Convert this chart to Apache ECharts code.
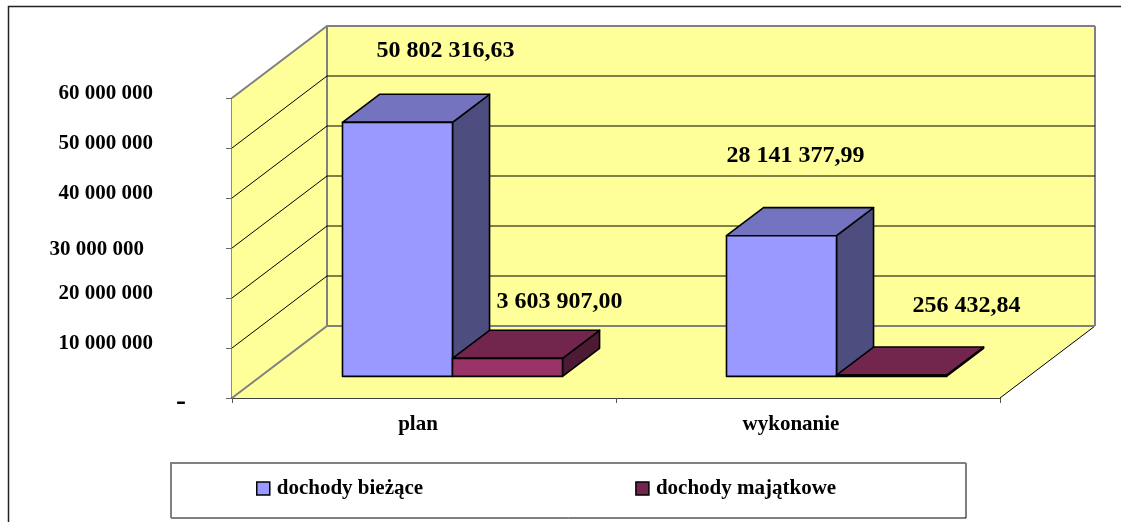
<!DOCTYPE html>
<html><head><meta charset="utf-8">
<script src="https://cdn.jsdelivr.net/npm/echarts@6/dist/echarts.min.js"></script>
<style>html,body{margin:0;padding:0;background:#fff}#c{width:1121px;height:522px}</style>
</head><body><div id="c"></div>
<script>
const categories = ['plan', 'wykonanie'];
const seriesNames = ['dochody bieżące', 'dochody majątkowe'];
const biezace = [50802316.63, 28141377.99];
const majatkowe = [3603907.00, 256432.84];
const yTicks = [0, 10000000, 20000000, 30000000, 40000000, 50000000, 60000000];
const yTickLabels = ['-', '10 000 000', '20 000 000', '30 000 000', '40 000 000', '50 000 000', '60 000 000'];

const FONT = 'Liberation Serif';
const DEPTH = { x: 95, y: -72 };
const fmt = v => {
  const [i, d] = v.toFixed(2).split('.');
  return i.replace(/\B(?=(\d{3})+(?!\d))/g, ' ') + ',' + d;
};
const palettes = [
  { front: '#9999FF', top: '#7373BF', side: '#4D4D80' },
  { front: '#993366', top: '#73264D', side: '#4D1A33' }
];
// label placement relative to each bar's top-front centre (the reference places them freely)
const labelNudge = [
  [[48, -72], [14, -80]],
  [[52, -57], [75, -69]]
];
const BAR_BAND = 0.2865;

function renderWalls(params, api) {
  const v = api.value(0);
  const p0 = api.coord([0, 0]);
  const band = api.size([1, 0])[0];
  const xL = p0[0] - band / 2, xR = xL + band * categories.length;
  const yB = p0[1], yT = api.coord([0, yTicks[yTicks.length - 1]])[1];
  const y = api.coord([0, v])[1];
  const edge = v === 0 || v === yTicks[yTicks.length - 1];
  const kids = [];
  if (params.dataIndex === 0) {
    const poly = (pts) => ({ type: 'polygon', shape: { points: pts }, style: { fill: '#FFFF99', stroke: null } });
    kids.push(poly([[xL, yB], [xL + DEPTH.x, yB + DEPTH.y], [xL + DEPTH.x, yT + DEPTH.y], [xL, yT]]));
    kids.push(poly([[xL + DEPTH.x, yB + DEPTH.y], [xR + DEPTH.x, yB + DEPTH.y], [xR + DEPTH.x, yT + DEPTH.y], [xL + DEPTH.x, yT + DEPTH.y]]));
    kids.push(poly([[xL, yB], [xR, yB], [xR + DEPTH.x, yB + DEPTH.y], [xL + DEPTH.x, yB + DEPTH.y]]));
    kids.push({ type: 'polyline', shape: { points: [[xL + DEPTH.x, yB + DEPTH.y], [xL + DEPTH.x, yT + DEPTH.y]] }, style: { fill: null, stroke: '#808080', lineWidth: 2 } });
    kids.push({ type: 'polyline', shape: { points: [[xR + DEPTH.x, yB + DEPTH.y], [xR + DEPTH.x, yT + DEPTH.y]] }, style: { fill: null, stroke: '#808080', lineWidth: 2 } });
    kids.push({ type: 'polyline', shape: { points: [[xR, yB], [xR + DEPTH.x, yB + DEPTH.y]] }, style: { fill: null, stroke: '#000', lineWidth: 1 } });
  }
  kids.push({
    type: 'polyline',
    shape: { points: v === 0
      ? [[xL, y], [xL + DEPTH.x, y + DEPTH.y], [xR + DEPTH.x, y + DEPTH.y]]
      : [[xL, y], [xL + DEPTH.x, y + DEPTH.y], [xR + DEPTH.x, y + DEPTH.y]] },
    style: { fill: null, stroke: edge ? '#808080' : '#000', lineWidth: edge ? 2 : 1 }
  });
  return { type: 'group', children: kids };
}

function makeBarRenderer(si) {
  return function (params, api) {
    const idx = api.value(0), val = api.value(1);
    const band = api.size([1, 0])[0];
    const w = band * BAR_BAND;
    const base = api.coord([idx, 0]), top = api.coord([idx, val]);
    const fx = DEPTH.x * 0.3, fy = DEPTH.y * 0.3;
    const bx = DEPTH.x * 0.39, by = DEPTH.y * 0.39;
    const x0 = base[0] + fx + (si - 1) * w, x1 = x0 + w;
    const yb = base[1] + fy, yt = top[1] + fy;
    const c = palettes[si];
    const ln = { stroke: '#000', lineWidth: 1.6, lineJoin: 'round' };
    const nudge = labelNudge[si][idx];
    return {
      type: 'group',
      children: [
        { type: 'polygon', shape: { points: [[x1, yb], [x1 + bx, yb + by], [x1 + bx, yt + by], [x1, yt]] }, style: Object.assign({ fill: c.side }, ln) },
        { type: 'polygon', shape: { points: [[x0, yt], [x1, yt], [x1 + bx, yt + by], [x0 + bx, yt + by]] }, style: Object.assign({ fill: c.top }, ln) },
        { type: 'polygon', shape: { points: [[x0, yb], [x1, yb], [x1, yt], [x0, yt]] }, style: Object.assign({ fill: c.front }, ln) },
        { type: 'text', x: (x0 + x1) / 2 + nudge[0], y: yt + nudge[1], z2: 50,
          style: { text: fmt(val), font: 'bold 24px "' + FONT + '"', fill: '#000', align: 'center', verticalAlign: 'middle' } }
      ]
    };
  };
}

const chart = echarts.init(document.getElementById('c'), null, { renderer: 'canvas' });
const tickRich = {
  t0: { font: 'bold 30px "' + FONT + '"', padding: [8, 0, 0, 0], fontWeight: 'bold', fontSize: 30, fontFamily: FONT, color: '#000' },
};
yTicks.forEach((t, i) => {
  if (i === 0) return;
  const pad = t === 30000000 ? [0, 42, 0, 0] : t === 40000000 ? [10, 33, 0, 0] : [0, 33, t === 30000000 ? 0 : 8, 0];
  tickRich['t' + i] = { fontFamily: FONT, fontWeight: 'bold', fontSize: 21, color: '#000', padding: t === 30000000 ? [4, 42, 0, 0] : [0, 33, 9, 0] };
});

chart.setOption({
  animation: false,
  color: [palettes[0].front, palettes[1].top],
  textStyle: { fontFamily: FONT },
  grid: { left: 232, width: 768, top: 98, height: 300, containLabel: false },
  xAxis: {
    type: 'category', data: categories, boundaryGap: true,
    axisLine: { lineStyle: { color: '#000', width: 1.5 } },
    axisTick: { show: true, length: 5, lineStyle: { color: '#555', width: 1 } },
    axisLabel: {
      margin: 16,
      formatter: (v, i) => '{c' + i + '|' + v + '}',
      rich: {
        c0: { fontFamily: FONT, fontWeight: 'bold', fontSize: 21, color: '#000', padding: [0, 12, 0, 0] },
        c1: { fontFamily: FONT, fontWeight: 'bold', fontSize: 21, color: '#000', padding: [0, 34, 0, 0] }
      }
    }
  },
  yAxis: {
    type: 'value', min: 0, max: 60000000, interval: 10000000,
    splitLine: { show: false },
    axisLine: { show: true, lineStyle: { color: '#666', width: 1.5 } },
    axisTick: { show: true, length: 6, lineStyle: { color: '#666', width: 1 } },
    axisLabel: {
      margin: 46,
      formatter: v => { const i = yTicks.indexOf(v); return '{t' + i + '|' + yTickLabels[i] + '}'; },
      rich: tickRich
    }
  },
  legend: {
    left: 256, top: 478, padding: 0, itemWidth: 13, itemHeight: 13, itemGap: 212,
    icon: 'rect', selectedMode: false,
    itemStyle: { borderColor: '#000', borderWidth: 1.5 },
    textStyle: { fontFamily: FONT, fontWeight: 'bold', fontSize: 21, color: '#000', padding: [0, 0, 0, 2] },
    data: seriesNames
  },
  graphic: [
    { type: 'polyline', silent: true, shape: { points: [[8.5, 522], [8.5, 6.5], [1121, 6.5]] }, style: { fill: null, stroke: '#222', lineWidth: 1.5 } },
    { type: 'rect', silent: true, shape: { x: 171, y: 463, width: 795, height: 55 }, style: { fill: '#fff', stroke: '#000', lineWidth: 1 } },
    { type: 'polyline', silent: true, shape: { points: [[171, 518], [171, 463], [966, 463]] }, style: { fill: null, stroke: '#808080', lineWidth: 2 } }
  ],
  series: [
    { type: 'custom', silent: true, z: 1, renderItem: renderWalls, data: yTicks.map(v => [v]), encode: { y: 0 }, clip: false, legendHoverLink: false },
    { type: 'custom', name: seriesNames[0], z: 2, renderItem: makeBarRenderer(0), data: biezace.map((v, i) => [i, v]), encode: { x: 0, y: 1 }, itemStyle: { color: palettes[0].front } },
    { type: 'custom', name: seriesNames[1], z: 3, renderItem: makeBarRenderer(1), data: majatkowe.map((v, i) => [i, v]), encode: { x: 0, y: 1 }, itemStyle: { color: palettes[1].top } }
  ]
});
</script></body></html>
